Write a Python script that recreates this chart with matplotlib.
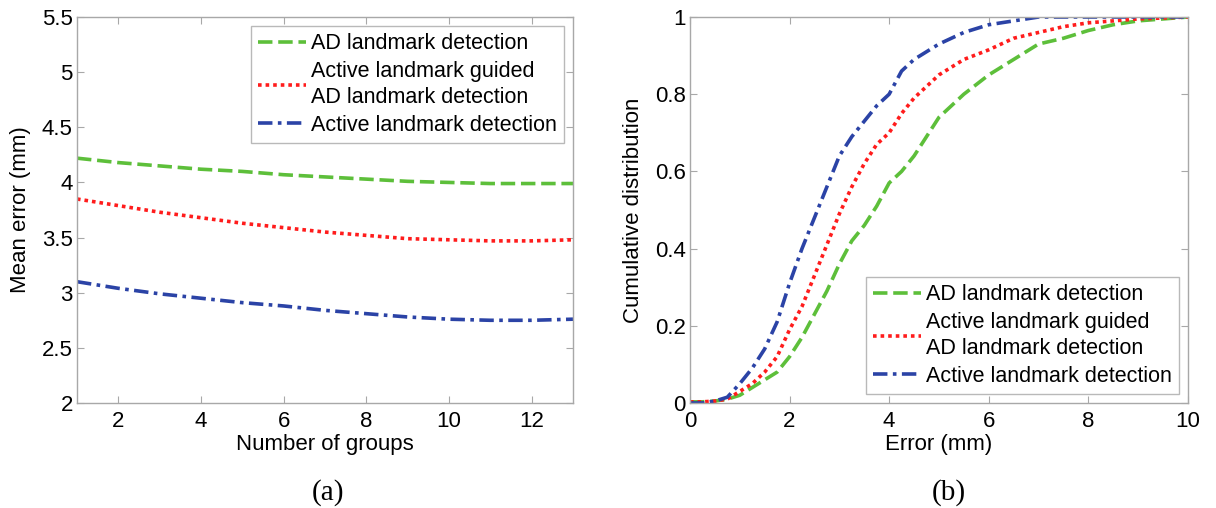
import numpy as np
import matplotlib
matplotlib.use("Agg")
import matplotlib.pyplot as plt

plt.rcParams['font.family'] = ['Liberation Sans', 'DejaVu Sans']

# ---- data (a) ----
groups = [1, 2, 3, 4, 5, 6, 7, 8, 9, 10, 11, 12, 13]
ad_mean = [4.22, 4.18, 4.15, 4.12, 4.10, 4.07, 4.05, 4.03, 4.01, 4.00, 3.99, 3.99, 3.99]
guided_mean = [3.85, 3.79, 3.73, 3.68, 3.63, 3.59, 3.55, 3.52, 3.49, 3.48, 3.47, 3.47, 3.48]
active_mean = [3.10, 3.04, 2.99, 2.95, 2.91, 2.88, 2.84, 2.81, 2.78, 2.76, 2.75, 2.75, 2.76]

# ---- data (b) ----
err = [0, 0.25, 0.5, 0.75, 1.0, 1.25, 1.5, 1.75, 2.0, 2.25, 2.5, 2.75, 3.0, 3.25, 3.5,
       3.75, 4.0, 4.25, 4.5, 4.75, 5.0, 5.5, 6.0, 6.5, 7.0, 7.5, 8.0, 8.5, 9.0, 10.0]
ad_cdf = [0.003, 0.003, 0.005, 0.01, 0.02, 0.04, 0.06, 0.08, 0.12, 0.17, 0.23, 0.29, 0.36,
          0.42, 0.46, 0.51, 0.57, 0.60, 0.64, 0.69, 0.74, 0.80, 0.85, 0.89, 0.93, 0.945,
          0.965, 0.98, 0.99, 1.0]
guided_cdf = [0.003, 0.003, 0.005, 0.01, 0.03, 0.05, 0.08, 0.12, 0.19, 0.25, 0.33, 0.41,
              0.49, 0.56, 0.62, 0.67, 0.70, 0.75, 0.79, 0.82, 0.85, 0.89, 0.915, 0.945,
              0.96, 0.975, 0.985, 0.99, 0.995, 1.0]
active_cdf = [0.0, 0.0, 0.005, 0.015, 0.05, 0.09, 0.14, 0.21, 0.31, 0.40, 0.48, 0.56, 0.64,
              0.69, 0.73, 0.77, 0.80, 0.86, 0.89, 0.91, 0.93, 0.96, 0.98, 0.99, 1.0, 1.0,
              1.0, 1.0, 1.0, 1.0]

labels = ['AD landmark detection', 'Active landmark guided\nAD landmark detection',
          'Active landmark detection']
colors = ['#5dbf3a', '#ff1c1c', '#2b43a6']
styles = [(0, (4, 1.6)), (0, (1, 1.1)), (0, (4, 1.5, 1, 1.5))]

fig = plt.figure(figsize=(12.16, 5.08), dpi=100)
ax1 = fig.add_axes([0.0633, 0.2067, 0.4079, 0.7598])
ax2 = fig.add_axes([0.5674, 0.2067, 0.4095, 0.7598])

fs = 16
lfs = 15.5
for ax in (ax1, ax2):
    for s in ax.spines.values():
        s.set_color('#a8a8a8')
        s.set_linewidth(1.0)
    ax.tick_params(direction='in', top=True, right=True, length=5, color='#a8a8a8',
                   labelsize=fs, labelcolor='black')
    ax.tick_params(axis='x', pad=6)
    ax.tick_params(axis='y', pad=3)


def add_legend(ax, loc):
    leg = ax.legend(loc=loc, fontsize=lfs, frameon=True, fancybox=False,
                    edgecolor='#a8a8a8', handlelength=2.2, handletextpad=0.25,
                    borderaxespad=0.4, labelspacing=0.32, borderpad=0.35)
    leg.get_frame().set_linewidth(1.0)
    leg.get_texts()[1].set_linespacing(1.3)
    return leg


for y, c, ls, lab in zip([ad_mean, guided_mean, active_mean], colors, styles, labels):
    ax1.plot(groups, y, color=c, linestyle=ls, linewidth=2.6, label=lab)
ax1.set_xlim(1, 13)
ax1.set_ylim(2, 5.5)
ax1.set_xticks([2, 4, 6, 8, 10, 12])
ax1.set_yticks([2, 2.5, 3, 3.5, 4, 4.5, 5, 5.5])
ax1.set_yticklabels(['2', '2.5', '3', '3.5', '4', '4.5', '5', '5.5'])
ax1.set_xlabel('Number of groups', fontsize=fs, labelpad=1)
ax1.set_ylabel('Mean error (mm)', fontsize=fs, labelpad=8)
add_legend(ax1, 'upper right')

for y, c, ls, lab in zip([ad_cdf, guided_cdf, active_cdf], colors, styles, labels):
    ax2.plot(err, y, color=c, linestyle=ls, linewidth=2.6, label=lab)
ax2.set_xlim(0, 10)
ax2.set_ylim(0, 1)
ax2.set_xticks([0, 2, 4, 6, 8, 10])
ax2.set_yticks([0, 0.2, 0.4, 0.6, 0.8, 1])
ax2.set_yticklabels(['0', '0.2', '0.4', '0.6', '0.8', '1'])
ax2.set_xlabel('Error (mm)', fontsize=fs, labelpad=1)
ax2.set_ylabel('Cumulative distribution', fontsize=fs, labelpad=8)
add_legend(ax2, 'lower right')

fig.text(0.270, 0.030, '(a)', fontsize=21, family='Liberation Serif', ha='center', va='center')
fig.text(0.780, 0.030, '(b)', fontsize=21, family='Liberation Serif', ha='center', va='center')

fig.savefig('out.png', dpi=100)
